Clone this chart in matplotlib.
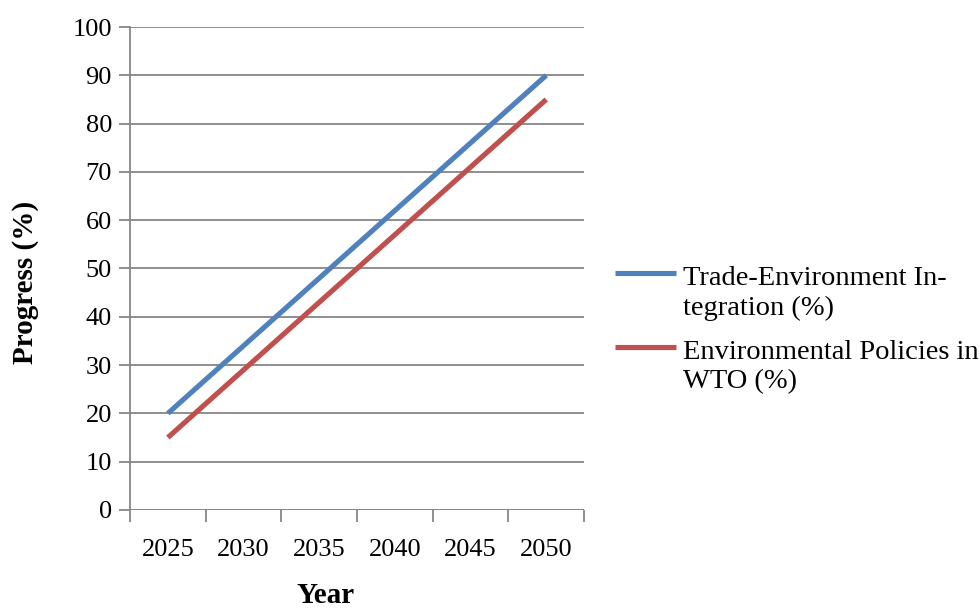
import numpy as np
import matplotlib.pyplot as plt
from matplotlib.lines import Line2D

plt.rcParams['font.family'] = ['Liberation Serif', 'DejaVu Serif']

years = ["2025", "2030", "2035", "2040", "2045", "2050"]
trade_env = [20, 34, 48, 62, 76, 90]
wto_policies = [15, 29, 43, 57, 71, 85]
series_names = [["Trade-Environment In-", "tegration (%)"],
                ["Environmental Policies in", "WTO (%)"]]

blue = "#4F81BD"
red = "#C0504D"
grid_grey = "#868686"

W, H = 980, 610
fig = plt.figure(figsize=(9.8, 6.1), dpi=100)
ax = fig.add_axes([0.1327, 0.164, 0.4633, 0.7917])

x = np.arange(len(years))
ax.plot(x, trade_env, color=blue, lw=3.7, solid_capstyle="butt")
ax.plot(x, wto_policies, color=red, lw=3.7, solid_capstyle="butt")

ax.set_xlim(-0.5, len(years) - 0.5)
ax.set_ylim(0, 100)
ax.set_yticks(range(0, 101, 10))
ax.set_xticks(x)
ax.set_xticklabels(years)
ax.set_xticks(np.arange(-0.5, len(years)), minor=True)

ax.grid(axis="y", color=grid_grey, lw=1.3)
ax.set_axisbelow(True)
for side in ["top", "right", "bottom"]:
    ax.spines[side].set_visible(False)
ax.spines["left"].set_color(grid_grey)
ax.spines["left"].set_linewidth(1.3)
ax.axhline(0, color=grid_grey, lw=1.3, zorder=0.5)

ax.tick_params(axis="y", length=8, width=1.3, color=grid_grey, labelsize=19, pad=5)
ax.tick_params(axis="x", which="major", length=0, labelsize=19, pad=21)
ax.tick_params(axis="x", which="minor", length=8.5, width=1.3, color=grid_grey)

ax.set_ylabel("Progress (%)", fontsize=21, fontweight="bold", va="center")
ax.yaxis.set_label_coords(-0.231, 0.472)
fig.text(326 / W, 1 - 603 / H, "Year", fontsize=21, fontweight="bold",
         ha="center", va="baseline")

# legend drawn by hand so the key line sits beside the first text line (Excel style)
legend_colors = [blue, red]
handle_y = [273, 347]
baselines = [[285, 315], [359, 388]]
for color, hy, names, bls in zip(legend_colors, handle_y, series_names, baselines):
    fig.add_artist(Line2D([615 / W, 676 / W], [1 - hy / H, 1 - hy / H],
                          color=color, lw=3.7, solid_capstyle="butt"))
    for name, bl in zip(names, bls):
        fig.text(683 / W, 1 - bl / H, name, fontsize=20.5, va="baseline", ha="left")

fig.savefig("out.png", dpi=100)
